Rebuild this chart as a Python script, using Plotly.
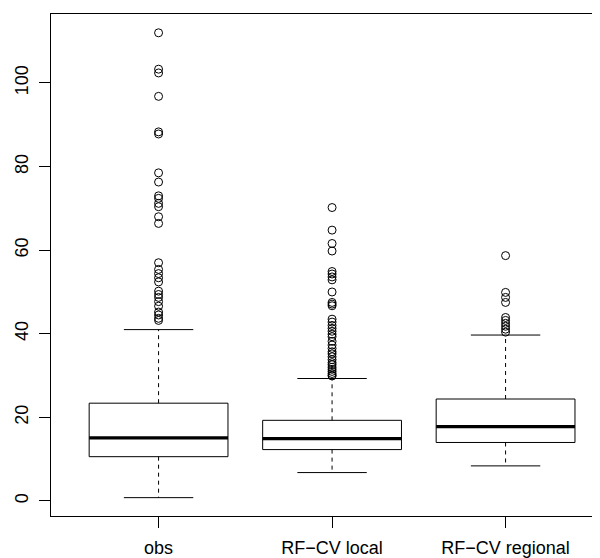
import plotly.graph_objects as go

categories = ["obs", "RF\u2212CV local", "RF\u2212CV regional"]
lower_whisker = [0.8, 6.8, 8.4]
q1 = [10.6, 12.3, 14.0]
median = [15.1, 14.9, 17.8]
q3 = [23.4, 19.3, 24.4]
upper_whisker = [41.0, 29.3, 39.7]

obs_outliers = [112.0, 103.3, 102.4, 96.8, 88.3, 87.8, 78.5, 76.3, 73.0, 72.4, 71.2, 70.4, 68.0, 66.4,
                57.0, 55.4, 54.4, 53.4, 52.4, 50.2, 49.4, 48.7, 47.7, 46.6, 45.2, 44.5, 43.7, 43.2]
local_outliers = [70.2, 64.8, 61.6, 59.8, 54.9, 54.3, 53.6, 52.9, 50.0, 47.5, 47.1, 46.7, 43.5, 42.8,
                  42.0, 41.3, 40.6, 39.9, 39.3, 38.2, 37.3, 36.5, 35.7, 35.2, 34.5, 33.8, 33.1, 32.6,
                  32.0, 31.5, 31.0, 30.5, 30.1, 29.9]
regional_outliers = [58.7, 49.9, 48.7, 47.5, 43.9, 43.2, 42.5, 41.8, 41.1, 40.4]
outliers = [obs_outliers, local_outliers, regional_outliers]

y_ticks = [0, 20, 40, 60, 80, 100]

HALF = 0.4
CAP = 0.2
fig = go.Figure()
line = dict(color="black", width=1)
for i, name in enumerate(categories):
    c = i + 1
    fig.add_trace(go.Scatter(x=[c - HALF, c + HALF, c + HALF, c - HALF, c - HALF],
                             y=[q1[i], q1[i], q3[i], q3[i], q1[i]],
                             mode="lines", line=line, hoverinfo="skip", showlegend=False))
    fig.add_trace(go.Scatter(x=[c - HALF, c + HALF], y=[median[i], median[i]], mode="lines",
                             line=dict(color="black", width=3.2), showlegend=False, hoverinfo="skip"))
    fig.add_trace(go.Scatter(x=[c, c, None, c, c],
                             y=[q3[i], upper_whisker[i], None, q1[i], lower_whisker[i]],
                             mode="lines", line=dict(color="black", width=1, dash="4px,4px"),
                             showlegend=False, hoverinfo="skip"))
    fig.add_trace(go.Scatter(x=[c - CAP, c + CAP, None, c - CAP, c + CAP],
                             y=[upper_whisker[i], upper_whisker[i], None, lower_whisker[i], lower_whisker[i]],
                             mode="lines", line=line, showlegend=False, hoverinfo="skip"))
    fig.add_trace(go.Scatter(x=[c] * len(outliers[i]), y=outliers[i], mode="markers",
                             marker=dict(symbol="circle-open", size=8, color="black",
                                         line=dict(width=1, color="black")),
                             showlegend=False, name=name))

fig.update_layout(
    width=600, height=558,
    margin=dict(l=43, r=0, t=6, b=50),
    paper_bgcolor="white", plot_bgcolor="white",
    font=dict(family="Liberation Sans, Arial, sans-serif", size=18, color="black"),
    xaxis=dict(range=[0.38, 0.38 + 557 / 173.5], tickmode="array", tickvals=[1, 2, 3],
               ticktext=categories, ticks="outside", ticklen=11, tickcolor="black",
               showline=True, linecolor="black", linewidth=1, mirror=True,
               showgrid=False, zeroline=False, ticklabelstandoff=4),
    yaxis=dict(range=[-3.59, 116.5], tickmode="array", tickvals=y_ticks,
               ticks="outside", ticklen=11, tickcolor="black", tickangle=-90,
               showline=True, linecolor="black", linewidth=1, mirror=False,
               showgrid=False, zeroline=False, ticklabelstandoff=4),
)

fig.write_html("out.html")
